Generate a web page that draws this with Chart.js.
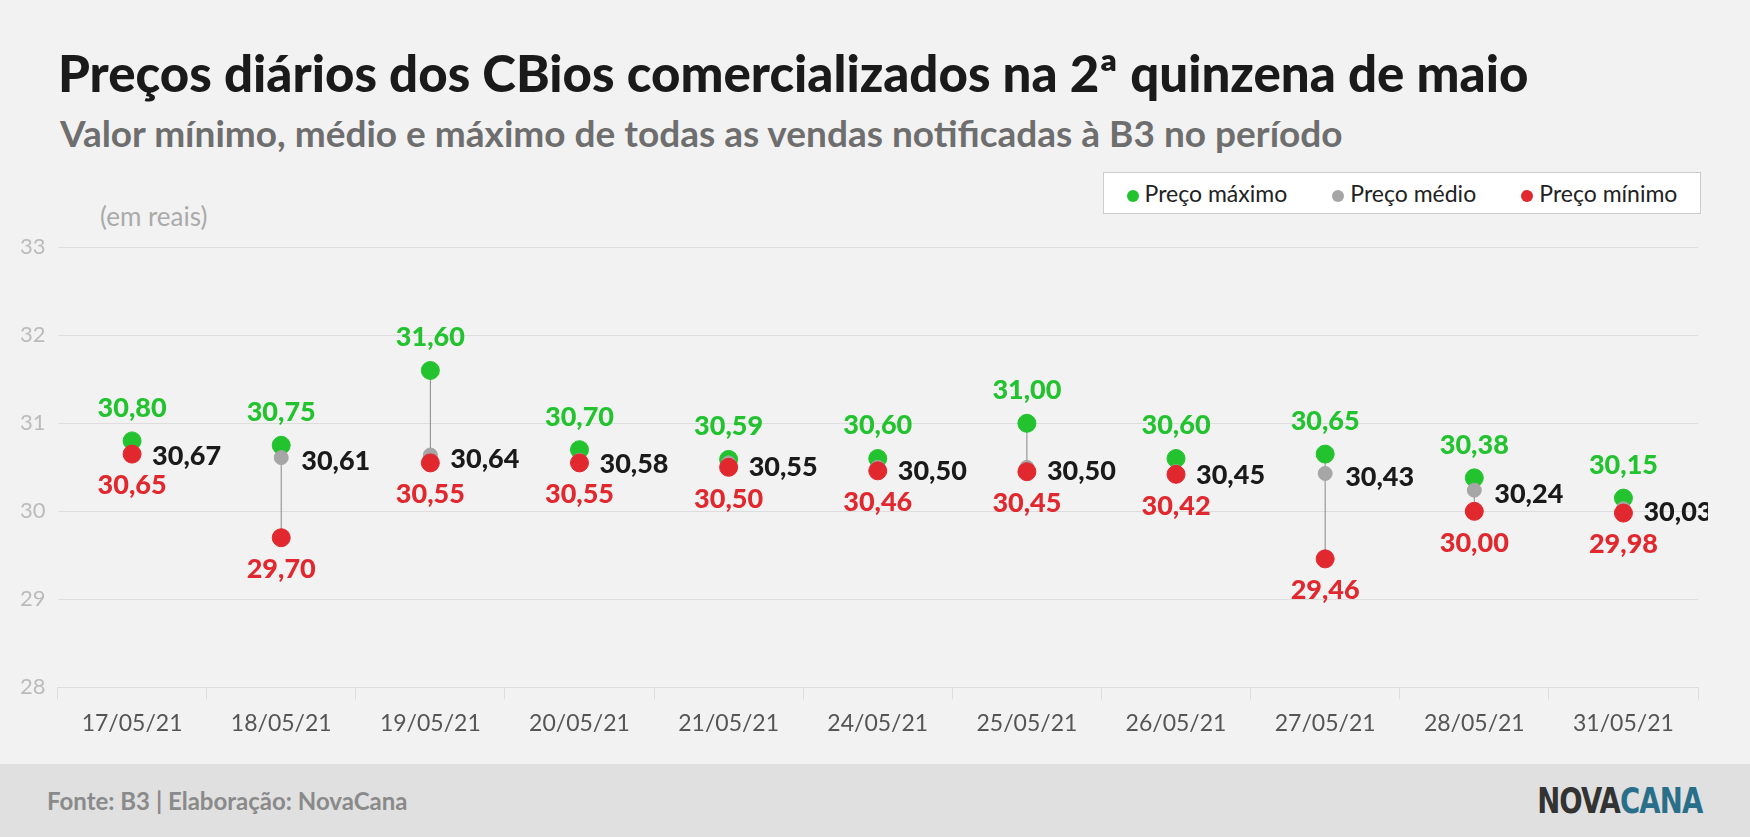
<!DOCTYPE html>
<html><head><meta charset="utf-8">
<script src="https://cdn.jsdelivr.net/npm/chart.js@4"></script>
<style>
body{margin:0;width:1750px;height:837px;background:#f2f2f2;font-family:Lato,sans-serif;position:relative;overflow:hidden}
#t{position:absolute;left:58px;top:42px;font-size:51px;font-weight:900;color:#1a1a1a}
#s{position:absolute;left:60px;top:110px;font-size:37px;font-weight:700;color:#6e6e6e}
#u{position:absolute;left:100px;top:200px;font-size:26px;color:#aaa}
#lg{position:absolute;left:1103px;top:172px;width:598px;height:42px;border:1px solid #ccc;background:#fff;box-sizing:border-box;display:flex;align-items:center;justify-content:space-around;font-size:23px;color:#222}
#lg span{display:inline-block;width:12px;height:12px;border-radius:50%;margin-right:6px}
#c{position:absolute;left:8px;top:222px;width:1700px;height:525px}
#f{position:absolute;left:0;top:764px;width:1750px;height:73px;background:#e0e0e0}
#f .a{position:absolute;left:47px;top:22px;font-size:24px;font-weight:700;color:#8a8a8a}
#f .b{position:absolute;right:48px;top:16px;font-size:36px;font-weight:700;font-family:"DejaVu Sans Condensed",sans-serif;letter-spacing:-1px;transform:scaleX(0.85);transform-origin:right}
</style></head><body>
<div id="t">Preços diários dos CBios comercializados na 2ª quinzena de maio</div>
<div id="s">Valor mínimo, médio e máximo de todas as vendas notificadas à B3 no período</div>
<div id="u">(em reais)</div>
<div id="lg"><div><span style="background:#22c32e"></span>Preço máximo</div><div><span style="background:#a6a6a6"></span>Preço médio</div><div><span style="background:#e0282e"></span>Preço mínimo</div></div>
<div id="c"><canvas id="cv"></canvas></div>
<div id="f"><div class="a">Fonte: B3 | Elaboração: NovaCana</div><div class="b"><span style="color:#333">NOVA</span><span style="color:#2a6f8a">CANA</span></div></div>
<script>
const categories=["17/05/21","18/05/21","19/05/21","20/05/21","21/05/21","24/05/21","25/05/21","26/05/21","27/05/21","28/05/21","31/05/21"];
const maxVals=[30.80,30.75,31.60,30.70,30.59,30.60,31.00,30.60,30.65,30.38,30.15];
const avgVals=[30.67,30.61,30.64,30.58,30.55,30.50,30.50,30.45,30.43,30.24,30.03];
const minVals=[30.65,29.70,30.55,30.55,30.50,30.46,30.45,30.42,29.46,30.00,29.98];
const yTicks=[28,29,30,31,32,33];
const fmt=v=>v.toFixed(2).replace('.',',');
const plug={id:'p',
beforeDatasetsDraw(ch){const c=ch.ctx,x=ch.scales.x,y=ch.scales.y;c.save();c.strokeStyle='#888';c.lineWidth=1;
categories.forEach((k,i)=>{c.beginPath();c.moveTo(x.getPixelForValue(i),y.getPixelForValue(minVals[i]));c.lineTo(x.getPixelForValue(i),y.getPixelForValue(maxVals[i]));c.stroke();});c.restore();},
afterDatasetsDraw(ch){const c=ch.ctx,x=ch.scales.x,y=ch.scales.y;c.save();c.font='900 27px Lato';
categories.forEach((k,i)=>{const px=x.getPixelForValue(i);
c.textAlign='center';c.textBaseline='alphabetic';c.fillStyle='#22c32e';c.fillText(fmt(maxVals[i]),px,y.getPixelForValue(maxVals[i])-24);
c.fillStyle='#e0282e';c.textBaseline='top';c.fillText(fmt(minVals[i]),px,y.getPixelForValue(minVals[i])+18);
c.fillStyle='#1a1a1a';c.textAlign='left';c.textBaseline='middle';c.fillText(fmt(avgVals[i]),px+20,y.getPixelForValue(avgVals[i])+4);});
c.restore();}};
new Chart(document.getElementById('cv'),{type:'line',
data:{labels:categories,datasets:[
{data:minVals,backgroundColor:'#e0282e',borderColor:'#e0282e',pointRadius:9,showLine:false},
{data:avgVals,backgroundColor:'#a6a6a6',borderColor:'#a6a6a6',pointRadius:7,showLine:false},
{data:maxVals,backgroundColor:'#22c32e',borderColor:'#22c32e',pointRadius:9,showLine:false}]},
options:{responsive:true,maintainAspectRatio:false,animation:false,
layout:{padding:{top:18,right:0}},
plugins:{legend:{display:false},tooltip:{enabled:false}},
scales:{y:{min:28,max:33,afterBuildTicks:a=>{a.ticks=yTicks.map(v=>({value:v}));},
ticks:{color:'#bbb',font:{size:22,family:'Lato'},padding:12},grid:{color:'#ddd',drawTicks:false},border:{display:false}},
x:{offset:true,ticks:{color:'#555',font:{size:23,family:'Lato'},padding:10},grid:{offset:true,color:'#ddd',drawOnChartArea:false,drawTicks:true,tickLength:12},border:{display:false}}}},
plugins:[plug]});
</script></body></html>
